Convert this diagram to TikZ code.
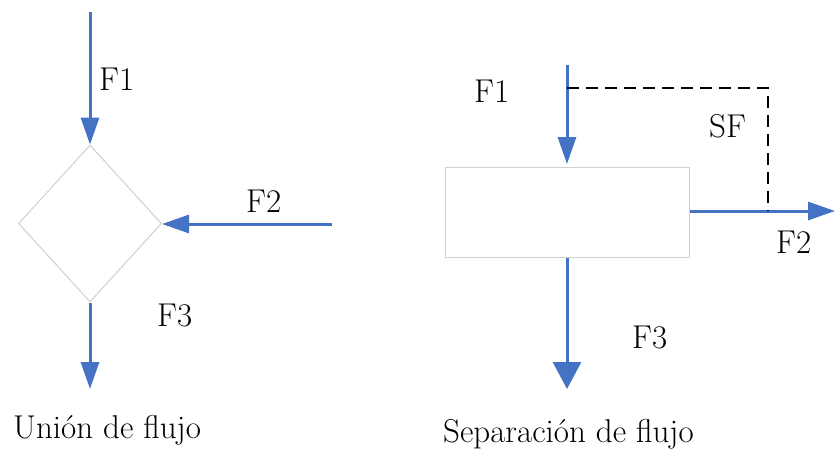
\documentclass[tikz,border=0pt]{standalone}
\usetikzlibrary{arrows.meta,shapes.geometric}
\definecolor{flowblue}{HTML}{4472C4}
\definecolor{boxgray}{HTML}{D0D0D0}
\begin{document}
\begin{tikzpicture}[x=1pt,y=-1pt,
  flow/.style={draw=flowblue,line width=3pt,-{Triangle[length=27pt,width=18pt]}},
  wideflow/.style={draw=flowblue,line width=3pt,-{Triangle[length=27pt,width=28pt]}},
  link/.style={draw=flowblue,line width=3pt},
  sep/.style={draw=black,line width=2pt,dash pattern=on 12pt off 7pt},
  lbl/.style={anchor=base west,inner sep=0pt,font=\rmfamily\fontsize{33}{38}\selectfont},
  unit/.style={draw=boxgray,line width=1pt,fill=white}]
\useasboundingbox (0,0) rectangle (835,450);
% Left: union
\node[unit,diamond,minimum width=143pt,minimum height=157pt,inner sep=0pt,shape aspect=0.911] (mix) at (90,223.5) {};
\coordinate (l1) at (90,12);
\coordinate (l2) at (332,224);
\coordinate (l3) at (90,389);
\draw[flow] (l1) -- (mix.north);
\draw[flow] (l2) -- (mix.east |- l2);
\draw[flow] (mix.south) -- (l3);
\node[lbl] (lf1) at (99,90) {F1};
\node[lbl] (lf2) at (246,212) {F2};
\node[lbl] (lf3) at (157,326) {F3};
\node[lbl] (ltitle) at (13,438) {Unión de flujo};
% Right: separation
\node[unit,rectangle,minimum width=244pt,minimum height=90pt,inner sep=0pt] (split) at (567,212) {};
\coordinate (r1) at (567,65);
\coordinate (rtip) at (567,164);
\coordinate (rs) at (567,88);
\coordinate (rc) at (768,88);
\coordinate (rj) at (768,211);
\coordinate (r2) at (835,211);
\coordinate (r3) at (567,389);
\draw[flow] (r1) -- (rtip);
\draw[link] (split.east |- rj) -- (rj);
\draw[flow] (rj) -- (r2);
\draw[wideflow] (split.south) -- (r3);
\draw[sep] (rs) -- (rc) -- (rj);
\node[lbl] (rf1) at (474,102) {F1};
\node[lbl] (rsf) at (709,137) {SF};
\node[lbl] (rf2) at (776,253) {F2};
\node[lbl] (rf3) at (632,348) {F3};
\node[lbl] (rtitle) at (443,442) {Separación de flujo};
\end{tikzpicture}
\end{document}
